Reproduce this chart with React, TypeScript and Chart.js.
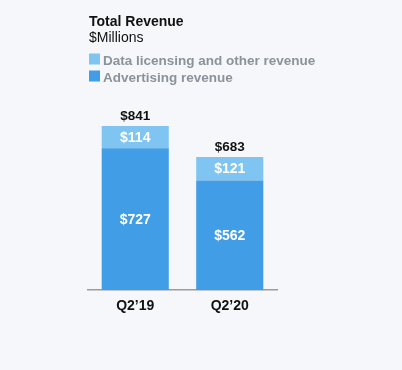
import React, { useEffect, useRef } from "react";
import { Chart, registerables } from "chart.js";

Chart.register(...registerables);

const categories = ["Q2\u201919", "Q2\u201920"];
const advertising = [727, 562];
const dataLicensing = [114, 121];
const totals = [841, 683];
const seriesNames = ["Data licensing and other revenue", "Advertising revenue"];
const titleText = "Total Revenue";
const subtitleText = "$Millions";

const FONT = '"Liberation Sans", Arial, Helvetica, sans-serif';
const BG = "#f5f7fa";
const LIGHT = "#80c4f2";
const DARK = "#409de6";
const LEGEND_GRAY = "#8c9299";

export default function App() {
  const ref = useRef<HTMLCanvasElement | null>(null);

  useEffect(() => {
    document.body.style.margin = "0";
    document.body.style.background = BG;
    const canvas = ref.current;
    if (!canvas) return;

    const bgPlugin = {
      id: "bg",
      beforeDraw(chart: any) {
        const { ctx, width, height } = chart;
        ctx.save();
        ctx.fillStyle = BG;
        ctx.fillRect(0, 0, width, height);
        ctx.restore();
      },
    };

    const headerPlugin = {
      id: "header",
      afterDraw(chart: any) {
        const { ctx, chartArea } = chart;
        const x = chartArea.left + 1;
        ctx.save();
        ctx.textAlign = "left";
        ctx.textBaseline = "alphabetic";
        ctx.fillStyle = "#111111";
        ctx.font = `bold 14px ${FONT}`;
        ctx.fillText(titleText, x, 26);
        ctx.font = `14px ${FONT}`;
        ctx.fillText(subtitleText, x, 42);
        const colors = [LIGHT, DARK];
        const baselines = [64.5, 81.5];
        ctx.font = `bold 13.5px ${FONT}`;
        seriesNames.forEach((name, i) => {
          ctx.fillStyle = colors[i];
          ctx.fillRect(x, baselines[i] - 11, 11, 11);
          ctx.fillStyle = LEGEND_GRAY;
          ctx.fillText(name, x + 14, baselines[i]);
        });
        ctx.restore();
      },
    };

    const labelPlugin = {
      id: "barLabels",
      afterDatasetsDraw(chart: any) {
        const { ctx } = chart;
        ctx.save();
        ctx.textAlign = "center";
        ctx.textBaseline = "middle";
        ctx.font = `bold 14px ${FONT}`;
        ctx.fillStyle = "#ffffff";
        chart.data.datasets.forEach((ds: any, di: number) => {
          const meta = chart.getDatasetMeta(di);
          meta.data.forEach((bar: any, i: number) => {
            const mid = (bar.y + bar.base) / 2;
            ctx.fillText("$" + ds.data[i], bar.x, mid + 0.5);
          });
        });
        const topMeta = chart.getDatasetMeta(chart.data.datasets.length - 1);
        ctx.fillStyle = "#111111";
        ctx.font = `bold 13.5px ${FONT}`;
        ctx.textBaseline = "alphabetic";
        topMeta.data.forEach((bar: any, i: number) => {
          ctx.fillText("$" + totals[i], bar.x, bar.y - 6);
        });
        ctx.restore();
      },
    };

    const chart = new Chart(canvas, {
      type: "bar",
      data: {
        labels: categories,
        datasets: [
          {
            label: seriesNames[1],
            data: advertising,
            backgroundColor: DARK,
            borderWidth: 0,
            barPercentage: 0.71,
            categoryPercentage: 1,
          },
          {
            label: seriesNames[0],
            data: dataLicensing,
            backgroundColor: LIGHT,
            borderWidth: 0,
            barPercentage: 0.71,
            categoryPercentage: 1,
          },
        ],
      },
      options: {
        responsive: false,
        animation: false,
        layout: { padding: { left: 88, right: 125, top: 95, bottom: 47 } },
        plugins: {
          legend: { display: false },
          title: { display: false },
          tooltip: { enabled: false },
        },
        scales: {
          x: {
            stacked: true,
            grid: { display: false, drawTicks: false },
            border: { display: true, color: "#9c9c9c", width: 1.5 },
            ticks: {
              color: "#111111",
              font: { family: FONT, size: 14, weight: "bold" },
              padding: 8,
            },
          },
          y: {
            stacked: true,
            display: false,
            min: 0,
            max: 1000,
          },
        },
      },
      plugins: [bgPlugin, headerPlugin, labelPlugin],
    });

    return () => chart.destroy();
  }, []);

  return (
    <div style={{ width: 402, height: 370 }}>
      <canvas ref={ref} width={402} height={370} style={{ display: "block" }} />
    </div>
  );
}
